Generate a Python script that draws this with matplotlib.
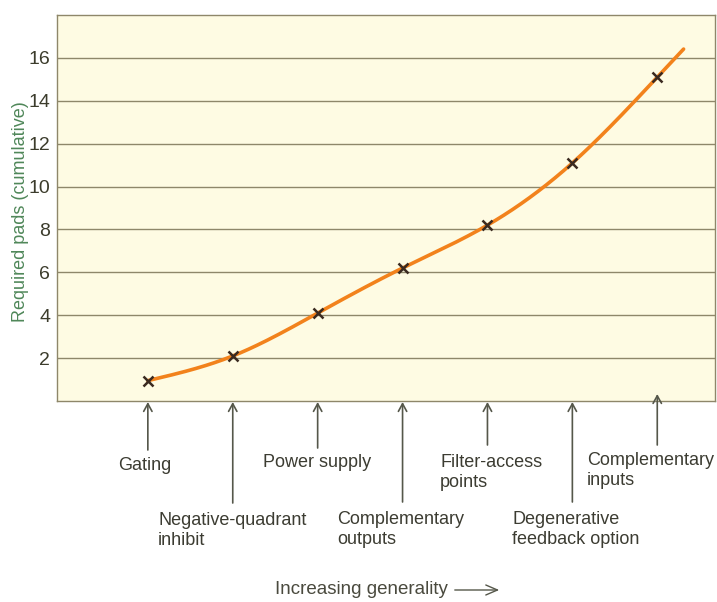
import numpy as np
import matplotlib
matplotlib.use("Agg")
import matplotlib.pyplot as plt
from matplotlib.transforms import blended_transform_factory

# Circuit options, in order of increasing generality
options = ["Gating", "Negative-quadrant\ninhibit", "Power supply",
           "Complementary\noutputs", "Filter-access\npoints",
           "Degenerative\nfeedback option", "Complementary\ninputs"]
pads = [0.95, 2.1, 4.1, 6.2, 8.2, 11.1, 15.1]
yticks = [2, 4, 6, 8, 10, 12, 14, 16]

plt.rcParams['font.family'] = ['Liberation Sans', 'DejaVu Sans']

W, H = 717, 602
fig = plt.figure(figsize=(W / 100, H / 100), dpi=100)
ax = fig.add_axes([57 / W, 1 - 401 / H, (715 - 57) / W, (401 - 15) / H])

bg = "#fefbe3"
grid_c = "#8e876a"
ax.set_facecolor(bg)
x = np.arange(len(pads), dtype=float)
y = np.array(pads, dtype=float)

# Natural cubic spline through the points
n = len(x)
A = np.zeros((n, n))
b = np.zeros(n)
A[0, 0] = A[-1, -1] = 1
for i in range(1, n - 1):
    A[i, i - 1], A[i, i], A[i, i + 1] = 1, 4, 1
    b[i] = 6 * (y[i + 1] - 2 * y[i] + y[i - 1])
M = np.linalg.solve(A, b)


def spline(xq):
    i = np.clip(np.floor(xq).astype(int), 0, n - 2)
    t = xq - x[i]
    return (M[i] * (1 - t) ** 3 / 6 + M[i + 1] * t ** 3 / 6
            + (y[i] - M[i] / 6) * (1 - t) + (y[i + 1] - M[i + 1] / 6) * t)


xs = np.linspace(x[0], x[-1], 300)
ys = spline(xs)
# short run-out past the last point along its end slope
slope_end = (y[-1] - y[-2]) + M[-2] / 6
t = np.linspace(0, 0.31, 10)
xs = np.concatenate([xs, x[-1] + t])
ys = np.concatenate([ys, y[-1] + slope_end * t])

ax.plot(xs, ys, color="#f2821c", lw=2.6, solid_capstyle="round", zorder=3)
ax.plot(x, y, linestyle="none", marker="x", color="#3a2a20", ms=7, mew=1.8, zorder=4)

ax.set_xlim(-1.07, 6.68)
ax.set_ylim(0, 18)
ax.set_yticks(yticks)
ax.set_yticklabels([str(v) for v in yticks], fontsize=14, color="#3c3c2c")
ax.set_xticks([])
ax.tick_params(axis="y", length=0, pad=5)
for v in yticks:
    ax.axhline(v, color=grid_c, lw=1.0, zorder=1)
for s in ax.spines.values():
    s.set_color(grid_c)
    s.set_linewidth(1.0)

ax.set_ylabel("Required pads (cumulative)", fontsize=13, color="#4f8759")
ax.yaxis.set_label_coords(-0.043, 0.49)

# Arrows and labels beneath the axis
trans = blended_transform_factory(ax.transData, fig.transFigure)
arrow_bottom = [450, 503, 448, 502, 445, 502, 445]
arrow_top = [402, 402, 402, 402, 402, 402, 394]
label_left = [118, 158, 263, 337, 440, 512, 587]
label_top = [457, 512, 454, 511, 454, 511, 452]
to_fig = lambda py: 1 - py / H
for i, (name, yb, yt, lx, ly) in enumerate(zip(options, arrow_bottom, arrow_top,
                                               label_left, label_top)):
    ax.annotate("", xy=(x[i], to_fig(yt)), xycoords=trans,
                xytext=(x[i], to_fig(yb)), textcoords=trans,
                arrowprops=dict(arrowstyle="->,head_length=0.55,head_width=0.3",
                                color="#55574a", lw=1.2, shrinkA=0, shrinkB=0),
                annotation_clip=False)
    fig.text(lx / W, to_fig(ly), name, ha="left", va="top", fontsize=13,
             color="#3c3c32", linespacing=1.2)

fig.text(275 / W, to_fig(590), "Increasing generality", ha="left", va="center",
         fontsize=13.5, color="#4a4a3e")
fig.add_artist(matplotlib.patches.FancyArrowPatch(
    (452 / W, to_fig(590)), (502 / W, to_fig(590)), transform=fig.transFigure,
    arrowstyle="->,head_length=0.7,head_width=0.3", color="#55574a", lw=1.0,
    mutation_scale=12))

fig.savefig("out.png", dpi=100, facecolor="white")
